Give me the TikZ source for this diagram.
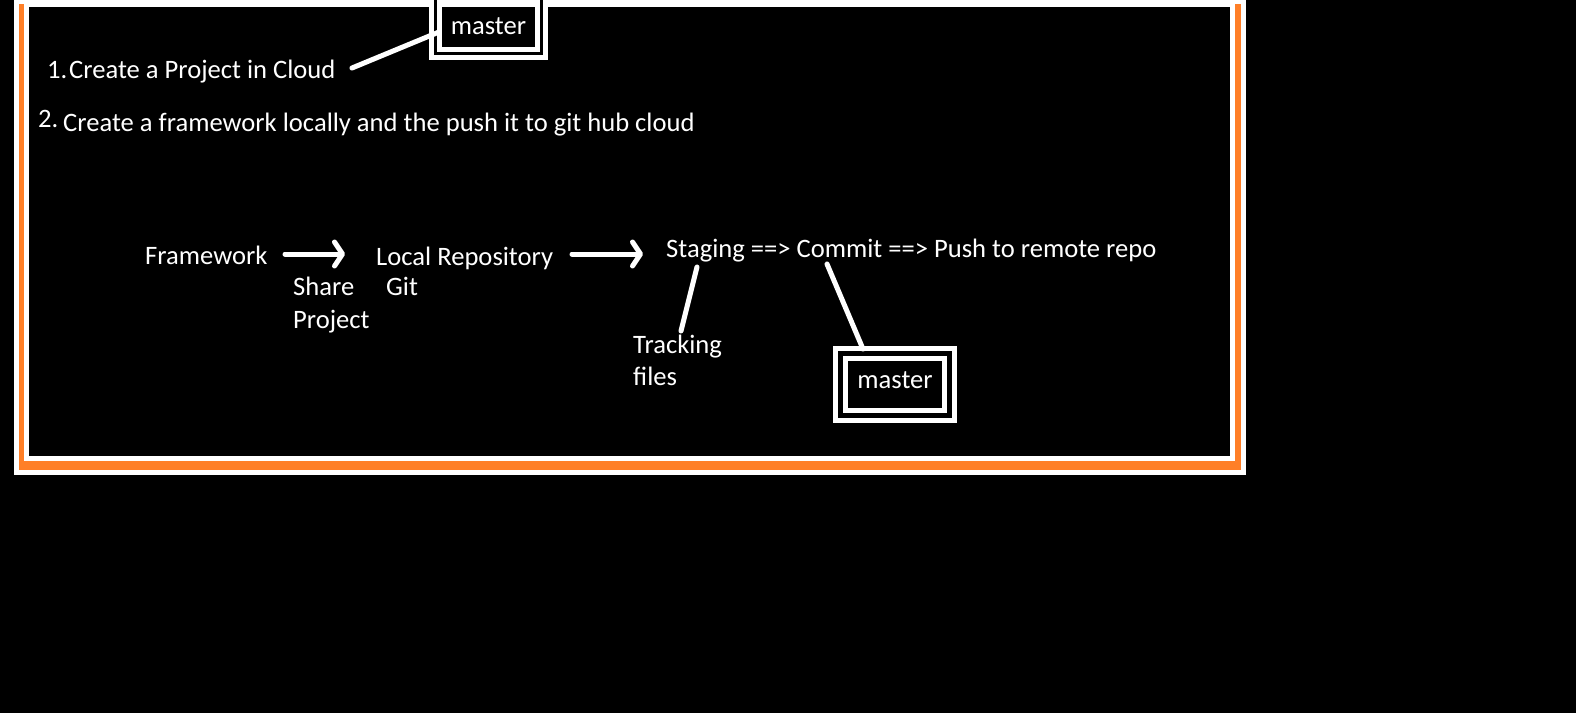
\documentclass[tikz,border=0pt]{standalone}
\usepackage{fontspec}
\setmainfont{Carlito}
\usetikzlibrary{arrows.meta}
\definecolor{paintorange}{RGB}{255,127,39}
\begin{document}
\begin{tikzpicture}[x=1pt,y=-1pt,
  txt/.style={text=white,font=\fontsize{26.6}{30}\selectfont,inner sep=0pt,anchor=base west},
  conn/.style={draw=white,line width=5pt,line cap=round},
  arr/.style={conn,-{Straight Barb[length=8pt,width=24pt,line cap=round,line join=round]}},
  dbox/.style={draw=white,double=black,line width=5pt,inner sep=0pt}
]
\useasboundingbox (0,0) rectangle (1576,713);
\clip (0,0) rectangle (1576,713);
\fill[black] (0,0) rectangle (1576,713);
% frame
\fill[white] (14,-20) rectangle (1246,475);
\fill[paintorange] (19,4) rectangle (1241,470);
\fill[white] (24,-20) rectangle (1235,461);
\fill[black] (29,7) rectangle (1230,456);

% top lines of text
\node[txt] (n1) at (47,78) {1.};
\node[txt] (t1) at (69,78) {Create a Project in Cloud};
\node[txt] (n2) at (38,127) {2.};
\node[txt] (t2) at (63,131) {Create a framework locally and the push it to git hub cloud};

% top master box
\node[dbox,double distance=3pt,minimum width=106pt,minimum height=83.5pt] (mtopbox) at (488.5,11.75) {};
\node[txt,anchor=base] (mtop) at (488.5,34) {master};
\coordinate (c1a) at (352,68);
\coordinate (c1b) at (439,32);
\draw[conn] (c1a) -- (c1b);

% flow
\node[txt] (fw) at (145,264) {Framework};
\node[txt] (share) at (293,295) {Share};
\node[txt] (proj) at (293,328) {Project};
\node[txt] (lr) at (376,265) {Local Repository};
\node[txt] (git) at (386,295) {Git};
\node[txt] (stg) at (666,257) {Staging ==> Commit ==> Push to remote repo};
\node[txt] (trk) at (633,353) {Tracking};
\node[txt] (fil) at (633,385) {files};

\coordinate (a1s) at (285,254);
\coordinate (a1e) at (345,254);
\coordinate (a2s) at (572,254);
\coordinate (a2e) at (643,254);
\draw[arr] (a1s) -- (a1e);
\draw[arr] (a2s) -- (a2e);

\coordinate (s1) at (697,267);
\coordinate (s2) at (681,331);
\draw[conn] (s1) -- (s2);

% bottom master box
\node[dbox,double distance=5pt,minimum width=109pt,minimum height=62pt] (mbotbox) at (894.5,384) {};
\node[txt,anchor=base] (mbot) at (895,388) {master};
\coordinate (m1) at (827,264);
\coordinate (m2) at (863,349);
\draw[conn] (m1) -- (m2);
\end{tikzpicture}
\end{document}
